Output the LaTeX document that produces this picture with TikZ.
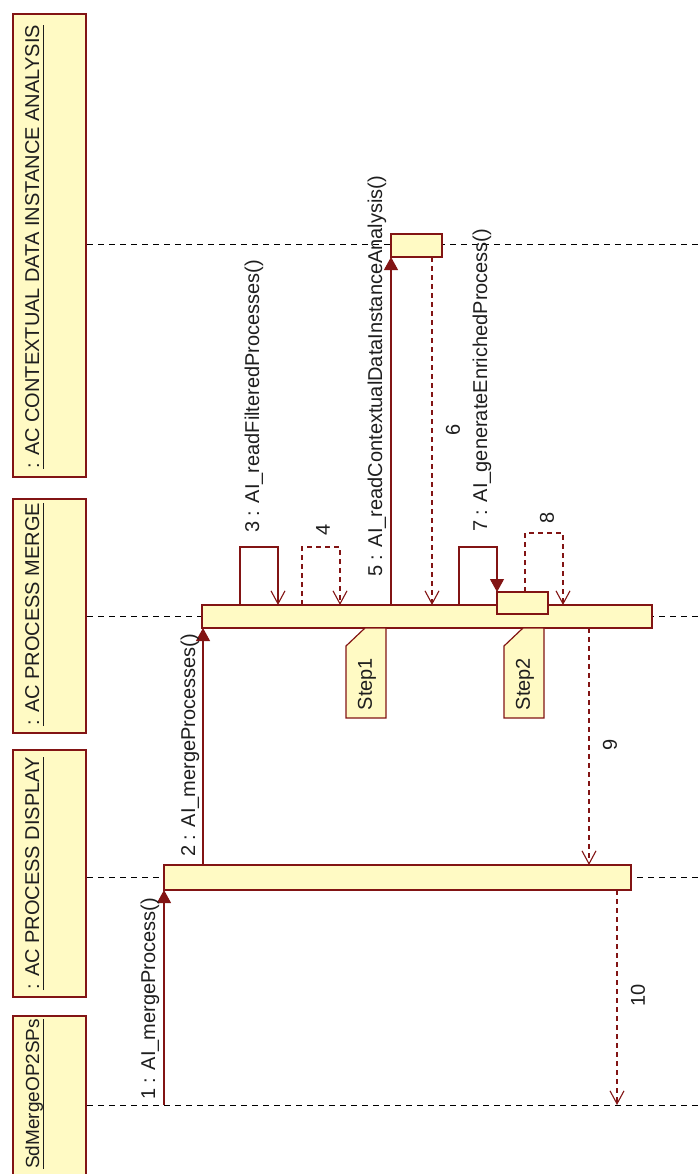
\documentclass[tikz,border=0pt]{standalone}
\usepackage{fontspec}
\setmainfont{Liberation Sans}
\usetikzlibrary{arrows.meta}
\definecolor{umlfill}{RGB}{255,250,196}
\definecolor{umlline}{RGB}{130,20,20}
\definecolor{txt}{RGB}{30,30,30}
\begin{document}
\begin{tikzpicture}[x=1pt,y=-1pt,
  box/.style={draw=umlline, fill=umlfill, line width=1.2pt, inner sep=0pt, outer sep=0pt, rectangle},
  notebox/.style={draw=umlline, fill=umlfill, line width=1.2pt},
  lifeline/.style={draw=black, line width=1pt, dash pattern=on 6pt off 5pt},
  callmsg/.style={draw=umlline, line width=1.1pt, -{Triangle[length=13pt,width=14pt]}},
  selfmsg/.style={draw=umlline, line width=1.1pt, -{Straight Barb[length=13pt,width=14pt]}},
  retmsg/.style={draw=umlline, line width=1.1pt, dash pattern=on 5pt off 4pt, -{Straight Barb[length=13pt,width=14pt]}},
  lbl/.style={font=\fontsize{20}{24}\selectfont, text=txt, inner sep=0pt, rotate=90},
  uline/.style={draw=txt, line width=1pt},
]
\useasboundingbox (0,0) rectangle (700,1174);
\clip (0,0) rectangle (700,1174);

% lifeline heads
\node[box, minimum width=73pt, minimum height=463pt] (head1) at (49.5,245.5) {};
\node[box, minimum width=73pt, minimum height=234pt] (head2) at (49.5,616) {};
\node[box, minimum width=73pt, minimum height=247pt] (head3) at (49.5,873.5) {};
\node[box, minimum width=73pt, minimum height=178pt] (head4) at (49.5,1105) {};

\node[lbl, anchor=base west] (t1) at (39,469) {: AC CONTEXTUAL DATA INSTANCE ANALYSIS};
\node[lbl, anchor=base west] (t2) at (39,726) {: AC PROCESS MERGE};
\node[lbl, anchor=base west] (t3) at (39,990) {: AC PROCESS DISPLAY};
\node[lbl, anchor=base west, font=\fontsize{19}{23}\selectfont] (t4) at (39,1169) {SdMergeOP2SPs};
\foreach \t in {t1,t2,t3,t4}
  \draw[uline] ([xshift=4pt]\t.base west) -- ([xshift=4pt]\t.base east);

% lifelines
\coordinate (l1s) at (87,245);  \coordinate (l1e) at (700,245);
\coordinate (l2s) at (87,616);  \coordinate (l2e) at (700,616);
\coordinate (l3s) at (87,877);  \coordinate (l3e) at (700,877);
\coordinate (l4s) at (87,1105); \coordinate (l4e) at (700,1105);
\draw[lifeline] (l1s) -- (l1e);
\draw[lifeline] (l2s) -- (l2e);
\draw[lifeline] (l3s) -- (l3e);
\draw[lifeline] (l4s) -- (l4e);

% activations
\node[box, minimum width=51pt, minimum height=23pt] (ctxAct) at (416.5,245.5) {};
\node[box, minimum width=450pt, minimum height=23pt] (mergeAct) at (427,616.5) {};
\node[box, minimum width=51pt, minimum height=22pt] (nestAct) at (522.5,603) {};
\node[box, minimum width=467pt, minimum height=25pt] (dispAct) at (397.5,877.5) {};

% notes
\draw[notebox] (365,628) -- (386,628) -- (386,718) -- (346,718) -- (346,646) -- cycle;
\node[lbl, anchor=center] (step1) at (367,684) {Step1};
\draw[notebox] (523,628) -- (544,628) -- (544,718) -- (504,718) -- (504,646) -- cycle;
\node[lbl, anchor=center] (step2) at (525,684) {Step2};

% message end points
\coordinate (m1a) at (164,1105); \coordinate (m1b) at (164,890);
\coordinate (m2a) at (203,865);  \coordinate (m2b) at (203,628);
\coordinate (m3a) at (240,605);  \coordinate (m3c) at (240,547); \coordinate (m3d) at (278,547); \coordinate (m3b) at (278,605);
\coordinate (m4a) at (302,605);  \coordinate (m4c) at (302,547); \coordinate (m4d) at (340,547); \coordinate (m4b) at (340,605);
\coordinate (m5a) at (391,605);  \coordinate (m5b) at (391,257);
\coordinate (m6a) at (432,257);  \coordinate (m6b) at (432,605);
\coordinate (m7a) at (459,605);  \coordinate (m7c) at (459,547); \coordinate (m7d) at (497,547); \coordinate (m7b) at (497,592);
\coordinate (m8a) at (525,592);  \coordinate (m8c) at (525,533); \coordinate (m8d) at (563,533); \coordinate (m8b) at (563,605);
\coordinate (m9a) at (589,628);  \coordinate (m9b) at (589,865);
\coordinate (m10a) at (617,890); \coordinate (m10b) at (617,1105);

\draw[callmsg] (m1a) -- (m1b);
\draw[callmsg] (m2a) -- (m2b);
\draw[selfmsg] (m3a) -- (m3c) -- (m3d) -- (m3b);
\draw[retmsg] (m4a) -- (m4c) -- (m4d) -- (m4b);
\draw[callmsg] (m5a) -- (m5b);
\draw[retmsg] (m6a) -- (m6b);
\draw[callmsg] (m7a) -- (m7c) -- (m7d) -- (m7b);
\draw[retmsg] (m8a) -- (m8c) -- (m8d) -- (m8b);
\draw[retmsg] (m9a) -- (m9b);
\draw[retmsg] (m10a) -- (m10b);

% message labels
\node[lbl, anchor=base west] (l1) at (155,1100) {1 : AI\_mergeProcess()};
\node[lbl, anchor=base west] (l2) at (195,857) {2 : AI\_mergeProcesses()};
\node[lbl, anchor=base west] (l3) at (259,533) {3 : AI\_readFilteredProcesses()};
\node[lbl, anchor=center] (l4) at (323,530) {4};
\node[lbl, anchor=base west] (l5) at (382,577) {5 : AI\_readContextualDataInstanceAnalysis()};
\node[lbl, anchor=center] (l6) at (453,430) {6};
\node[lbl, anchor=base west] (l7) at (487,532) {7 : AI\_generateEnrichedProcess()};
\node[lbl, anchor=center] (l8) at (547,518) {8};
\node[lbl, anchor=center] (l9) at (610,745) {9};
\node[lbl, anchor=center] (l10) at (638,995) {10};
\end{tikzpicture}
\end{document}
